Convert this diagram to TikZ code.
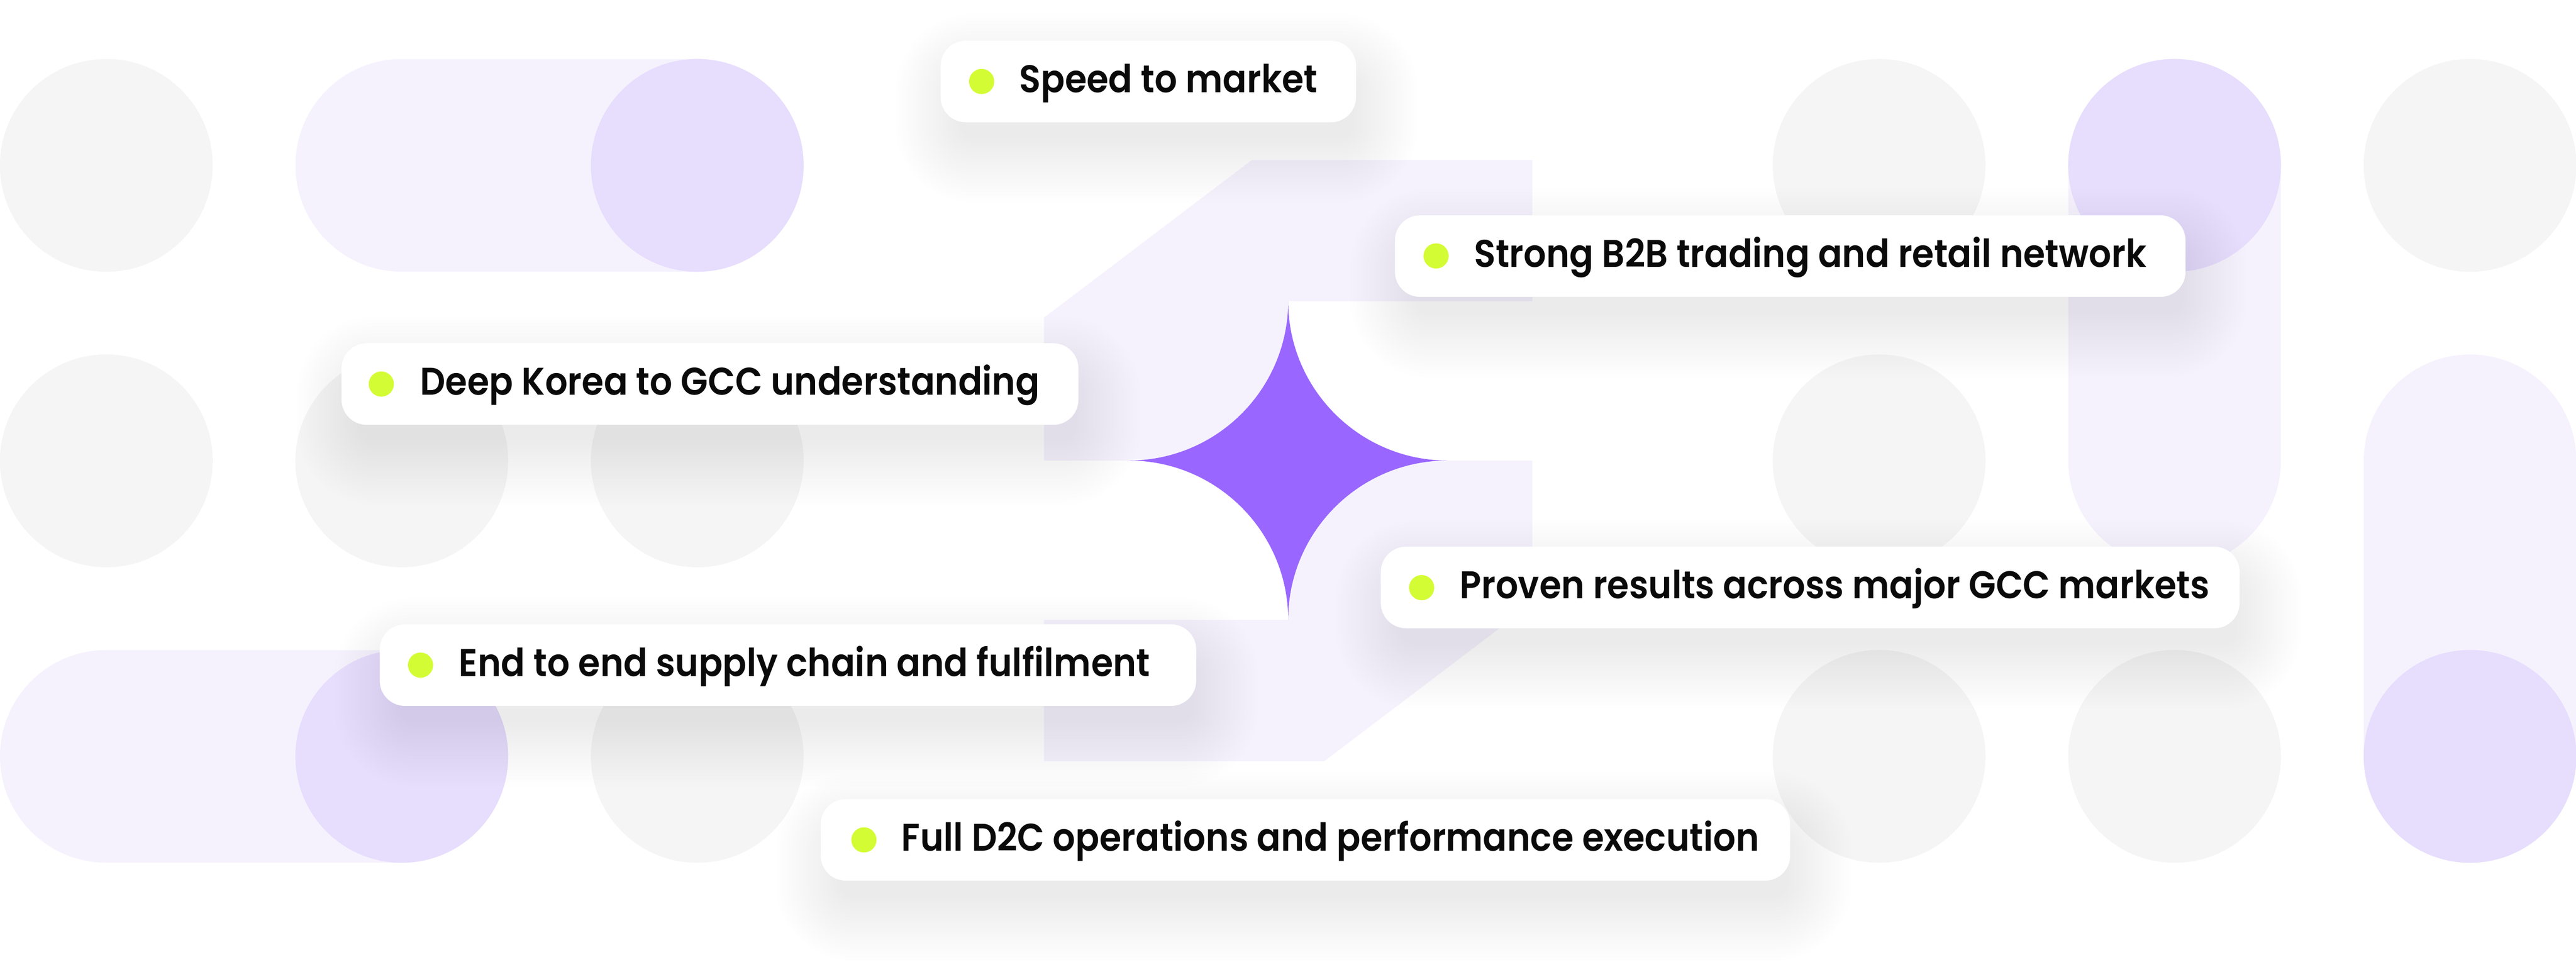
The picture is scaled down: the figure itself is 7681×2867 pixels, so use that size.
\documentclass[tikz,border=0pt]{standalone}
\usepackage{fontspec}
\newfontfamily\lblfont{Poppins SemiBold}[FakeStretch=0.918]
\definecolor{greyc}{HTML}{F5F5F5}
\definecolor{lav}{HTML}{F5F2FE}
\definecolor{lavd}{HTML}{E7DDFD}
\definecolor{starc}{HTML}{9966FF}
\definecolor{limec}{HTML}{D4FC34}
\definecolor{txt}{HTML}{0A0A0A}
\tikzset{
  greyball/.style={fill=greyc},
  lavball/.style={fill=lavd},
  lavpill/.style={fill=lav, rounded corners=3.17cm},
  shadowlayer/.style={fill=black, opacity=0.0042},
  lblbox/.style={fill=white, draw=none, rounded corners=0.75cm, inner sep=0pt,
    minimum height=2.43cm},
  lbldot/.style={circle, fill=limec, draw=none, inner sep=0pt, minimum size=0.75cm},
  lbltext/.style={anchor=base west, inner sep=0pt, text=txt,
    font=\lblfont\fontsize{32.7pt}{40pt}\selectfont},
}
% soft shadow: #1,#2 box centre (px), #3 width, #4 height
\newcommand\lblshadow[4]{%
  \foreach \i in {1,...,20}{%
    \pgfmathsetmacro\ee{\i*10-40}%
    \pgfmathsetmacro\rr{max(0.75+\ee*0.01,0.4)}%
    \fill[shadowlayer, rounded corners=\rr cm]
      ({#1+25-#3/2-\ee},{#2+80-#4/2-\ee}) rectangle ({#1+25+#3/2+\ee},{#2+80+#4/2+\ee});
  }%
}
\begin{document}
\begin{tikzpicture}[x=0.01cm, y=-0.01cm]
\useasboundingbox (0,0) rectangle (7681,2867);
\fill[white] (0,0) rectangle (7681,2867);
% columns: 317 + 881*i ; rows 493, 1374, 2255
\def\R{3.17cm}
% grey circles
\foreach \cx/\cy in {317/493, 5603/493, 7365/493,
                     317/1374, 1198/1374, 2079/1374, 5603/1374,
                     2079/2255, 5603/2255, 6484/2255}
  \fill[greyball] (\cx,\cy) circle[radius=\R];
% light pills
\fill[lavpill] (881,176) rectangle (2396,810);
\fill[lavpill] (6167,176) rectangle (6801,1691);
\fill[lavpill] (7048,1057) rectangle (7682,2572);
\fill[lavpill] (0,1938) rectangle (1515,2572);
% darker circles
\foreach \cx/\cy in {2079/493, 6484/493, 7365/2255, 1198/2255}
  \fill[lavball] (\cx,\cy) circle[radius=\R];
% central shape, upper part
\fill[lav] (3113,1373) -- (3366,1373)
  .. controls (3628,1373) and (3841,1160) .. (3841,898)
  -- (4569,898) -- (4569,477) -- (3733,477) -- (3113,947) -- cycle;
% central shape, lower part
\fill[lav] (4569,1373) -- (4316,1373)
  .. controls (4054,1373) and (3841,1586) .. (3841,1848)
  -- (3113,1848) -- (3113,2269) -- (3949,2269) -- (4569,1799) -- cycle;
% star
\fill[starc] (3366,1373)
  .. controls (3628,1373) and (3841,1160) .. (3841,898)
  .. controls (3841,1160) and (4054,1373) .. (4316,1373)
  .. controls (4054,1373) and (3841,1586) .. (3841,1848)
  .. controls (3841,1586) and (3628,1373) .. (3366,1373) -- cycle;
% label shadows
\lblshadow{3424}{243}{1238}{243}
\lblshadow{5338}{763.5}{2356}{243}
\lblshadow{2117}{1145}{2196}{243}
\lblshadow{5397.5}{1751.5}{2559}{243}
\lblshadow{2349.5}{1983}{2433}{243}
\lblshadow{3892.5}{2504}{2889}{243}
% labels
\node[lblbox, minimum width=12.38cm] (b1) at (3424,243) {};
\node[lbldot] (d1) at (2927,243) {};
\node[lbltext] (t1) at (3039,276) {Speed to market};

\node[lblbox, minimum width=23.56cm] (b2) at (5338,763.5) {};
\node[lbldot] (d2) at (4282,763) {};
\node[lbltext] (t2) at (4395,796) {Strong B2B trading and retail network};

\node[lblbox, minimum width=21.96cm] (b3) at (2117,1145) {};
\node[lbldot] (d3) at (1137,1145) {};
\node[lbltext] (t3) at (1252,1178) {Deep Korea to GCC understanding};

\node[lblbox, minimum width=25.59cm] (b4) at (5397.5,1751.5) {};
\node[lbldot] (d4) at (4239,1752) {};
\node[lbltext] (t4) at (4352,1784) {Proven results across major GCC markets};

\node[lblbox, minimum width=24.33cm] (b5) at (2349.5,1983) {};
\node[lbldot] (d5) at (1254,1983) {};
\node[lbltext] (t5) at (1368,2016) {End to end supply chain and fulfilment};

\node[lblbox, minimum width=28.89cm] (b6) at (3892.5,2504) {};
\node[lbldot] (d6) at (2576,2504) {};
\node[lbltext] (t6) at (2687,2537) {Full D2C operations and performance execution};
\end{tikzpicture}
\end{document}
